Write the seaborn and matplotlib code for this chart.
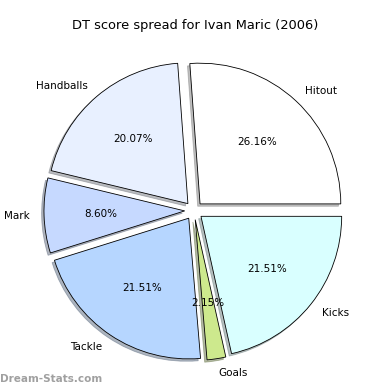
import matplotlib
matplotlib.use('Agg')
import matplotlib.pyplot as plt
import seaborn as sns

# DT score spread (percent of total score)
categories = ['Hitout', 'Handballs', 'Mark', 'Tackle', 'Goals', 'Kicks']
shares = [26.16, 20.07, 8.60, 21.51, 2.15, 21.51]
wedge_colors = ['#ffffff', '#e8f0ff', '#c6d9ff', '#b6d6ff', '#cde98d', '#d9ffff']

sns.set_style('white')
plt.rcParams['font.family'] = ['DejaVu Sans']

fig = plt.figure(figsize=(3.9, 3.9), dpi=100)
ax = fig.add_axes([0.046, 0.009, 0.902, 0.902])

wedges, texts, autotexts = ax.pie(
    shares, labels=categories, colors=wedge_colors,
    explode=[0.065] * len(shares), autopct='%1.2f%%',
    shadow={'ox': -0.012, 'oy': -0.012, 'shade': 0.5},
    startangle=0, labeldistance=1.1, pctdistance=0.6,
    wedgeprops={'edgecolor': 'black', 'linewidth': 0.6},
    textprops={'fontsize': 7.5, 'color': 'black'},
)
ax.set_xlim(-1.25, 1.25)
ax.set_ylim(-1.25, 1.25)
ax.set_aspect('equal')

fig.text(0.5, 0.935, 'DT score spread for Ivan Maric (2006)', ha='center', va='center',
         fontsize=9.4, color='black')
fig.text(0.0, 0.027, 'Dream-Stats.com', ha='left', va='center', fontsize=7.5,
         color='#a0a0a0', fontweight='bold')

fig.savefig('out.png', dpi=100)
